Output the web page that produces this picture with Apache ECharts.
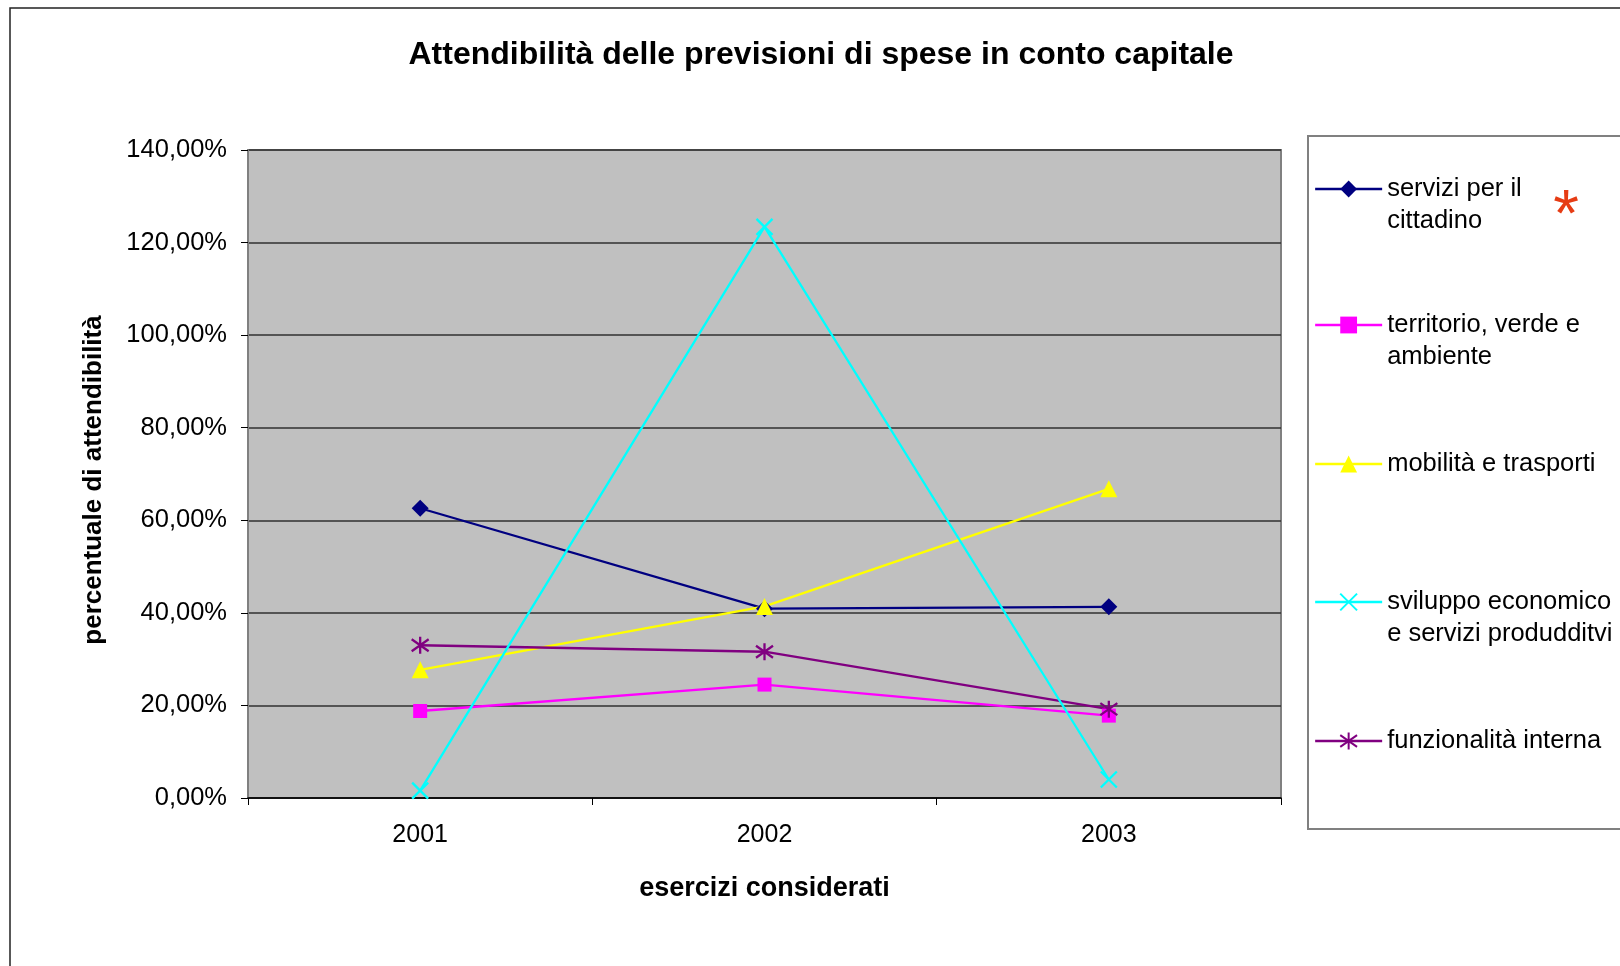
<!DOCTYPE html>
<html><head><meta charset="utf-8">
<script src="https://cdn.jsdelivr.net/npm/echarts@6/dist/echarts.min.js"></script>
<style>html,body{margin:0;padding:0;background:#fff}#c{width:1620px;height:966px}</style>
</head><body><div id="c"></div>
<script>
// ---- data ----
const years = ['2001', '2002', '2003'];
const serviziPerIlCittadino = [62.6, 40.9, 41.3];
const territorioVerdeAmbiente = [18.8, 24.5, 17.8];
const mobilitaTrasporti = [27.7, 41.4, 66.8];
const sviluppoEconomico = [1.6, 123.4, 4.0];
const funzionalitaInterna = [33.0, 31.6, 19.2];
const seriesNames = [
  'servizi per il cittadino',
  'territorio, verde e ambiente',
  'mobilità e trasporti',
  'sviluppo economico e servizi produdditvi',
  'funzionalità interna'
];
const legendLabels = [
  ['servizi per il', 'cittadino'],
  ['territorio, verde e', 'ambiente'],
  ['mobilità e trasporti'],
  ['sviluppo economico', 'e servizi produdditvi'],
  ['funzionalità interna']
];
const titleText = 'Attendibilità delle previsioni di spese in conto capitale';
const yAxisName = 'percentuale di attendibilità';
const xAxisName = 'esercizi considerati';

// ---- chart ----
const FONT = "'Liberation Sans', Arial, sans-serif";
const chart = echarts.init(document.getElementById('c'), null, {renderer: 'canvas'});

const X_PATH = 'path://M0,0L10,10M10,0L0,10';
const STAR_PATH = 'path://M0,1.5L10,8.5M10,1.5L0,8.5M5,0L5,10';

const seriesDefs = [
  {data: serviziPerIlCittadino, color: '#000080', symbol: 'diamond', size: 17},
  {data: territorioVerdeAmbiente, color: '#ff00ff', symbol: 'rect', size: 14},
  {data: mobilitaTrasporti, color: '#ffff00', symbol: 'triangle', size: 17},
  {data: sviluppoEconomico, color: '#00ffff', symbol: X_PATH, size: 16, stroke: true, z: 4},
  {data: funzionalitaInterna, color: '#800080', symbol: STAR_PATH, size: 17, stroke: true}
];

const series = seriesDefs.map((d, i) => ({
  name: seriesNames[i],
  type: 'line',
  data: d.data,
  symbol: d.symbol,
  symbolSize: d.size,
  showSymbol: true,
  z: d.z || 3,
  lineStyle: {color: d.color, width: 2.3},
  itemStyle: d.stroke
    ? {color: 'none', borderColor: d.color, borderWidth: 2.3}
    : {color: d.color, borderWidth: 0},
  emphasis: {disabled: true}
}));

const iconCenters = [189, 325, 464, 602, 741];
const LH = 32;
const legends = seriesNames.map((n, i) => {
  const lines = legendLabels[i];
  const two = lines.length > 1;
  return {
    data: [n],
    orient: 'vertical',
    left: 1314,
    top: iconCenters[i] - (two ? LH * 1.5 : LH / 2),
    padding: 0,
    itemWidth: 67,
    itemHeight: 21,
    itemGap: 0,
    selectedMode: false,
    lineStyle: {width: 2.3},
    formatter: () => (two ? '\n' : '') + lines.join('\n'),
    textStyle: {fontFamily: FONT, fontSize: 25.5, color: '#000', lineHeight: LH}
  };
});

chart.setOption({
  animation: false,
  backgroundColor: '#fff',
  grid: {
    left: 248, top: 150, right: 339, bottom: 168,
    show: true, backgroundColor: '#c0c0c0', borderColor: '#808080', borderWidth: 2,
    containLabel: false
  },
  legend: legends,
  xAxis: {
    type: 'category',
    data: years,
    boundaryGap: true,
    name: xAxisName,
    nameLocation: 'middle',
    nameGap: 77,
    nameTextStyle: {fontFamily: FONT, fontSize: 27, fontWeight: 'bold', color: '#000'},
    axisLine: {show: true, lineStyle: {color: '#000', width: 1.5}},
    axisTick: {show: true, length: 7, lineStyle: {color: '#000', width: 1}},
    axisLabel: {fontFamily: FONT, fontSize: 25, color: '#000', margin: 25},
    splitLine: {show: false}
  },
  yAxis: {
    type: 'value',
    min: 0, max: 140, interval: 20,
    name: yAxisName,
    nameLocation: 'middle',
    nameRotate: 90,
    nameGap: 141,
    nameTextStyle: {fontFamily: FONT, fontSize: 26, fontWeight: 'bold', color: '#000', padding: [0, 12, 0, 0]},
    axisLine: {show: true, lineStyle: {color: '#808080', width: 2}},
    axisTick: {show: true, length: 7, lineStyle: {color: '#000', width: 1}},
    axisLabel: {
      fontFamily: FONT, fontSize: 25.5, color: '#000', margin: 21,
      formatter: v => v.toFixed(2).replace('.', ',') + '%'
    },
    splitLine: {show: true, lineStyle: {color: '#303030', width: 1.5}}
  },
  graphic: [
    {type: 'rect', z: -10, silent: true,
      shape: {x: 10, y: 8, width: 1640, height: 1000},
      style: {fill: 'none', stroke: '#222', lineWidth: 1.5}},
    {type: 'rect', z: 0, silent: true,
      shape: {x: 1308, y: 136, width: 330, height: 693},
      style: {fill: '#fff', stroke: '#808080', lineWidth: 2}},
    {type: 'text', z: 10, silent: true, x: 821, y: 55,
      style: {text: titleText, fontFamily: FONT, fontSize: 32, fontWeight: 'bold',
        fill: '#000', align: 'center', verticalAlign: 'middle'}},
    {type: 'text', z: 10, silent: true, x: 1566, y: 218,
      style: {text: '*', fontFamily: FONT, fontSize: 66, fontWeight: 'normal',
        fill: '#e63c14', align: 'center', verticalAlign: 'middle'}}
  ],
  series: series
});
</script>
</body></html>
